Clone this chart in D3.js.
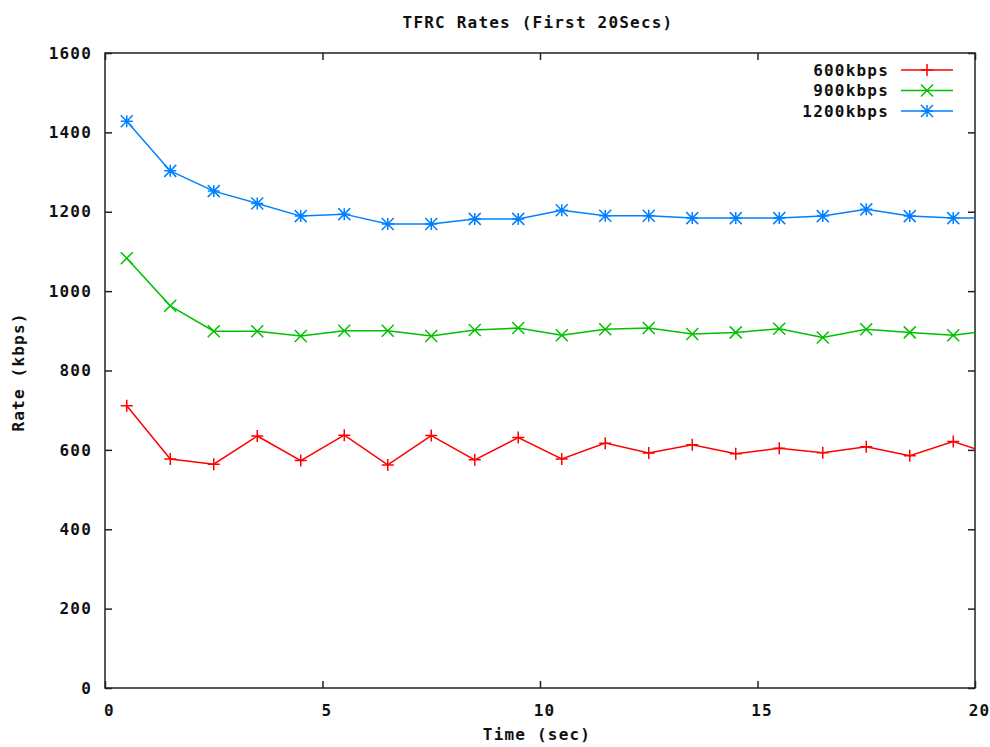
<!DOCTYPE html>
<html>
<head>
<meta charset="utf-8">
<script src="https://cdn.jsdelivr.net/npm/d3@7/dist/d3.min.js"></script>
<style>
  body { margin: 0; background: #fff; }
  text { font-family: "DejaVu Sans Mono", "Liberation Mono", monospace; font-weight: bold; fill: #111; letter-spacing: 1.2px; }
</style>
</head>
<body>
<div id="chart"></div>
<script>
// data (time in sec, rate in kbps)
const times = [0.5, 1.5, 2.5, 3.5, 4.5, 5.5, 6.5, 7.5, 8.5, 9.5, 10.5, 11.5, 12.5, 13.5, 14.5, 15.5, 16.5, 17.5, 18.5, 19.5, 20.5]
const rate600 = [711, 577, 564, 635, 573, 637, 562, 636, 575, 631, 577, 617, 592, 613, 590, 604, 593, 608, 585, 621, 585]
const rate900 = [1083, 963, 899, 899, 887, 900, 900, 887, 902, 907, 889, 904, 907, 892, 896, 905, 883, 904, 896, 889, 903]
const rate1200 = [1428, 1303, 1252, 1221, 1189, 1194, 1169, 1169, 1182, 1182, 1204, 1190, 1190, 1184, 1184, 1184, 1189, 1206, 1189, 1184, 1184]
const seriesNames = ["600kbps", "900kbps", "1200kbps"]
const xTicks = [0, 5, 10, 15, 20]
const yTicks = [0, 200, 400, 600, 800, 1000, 1200, 1400, 1600]

function drawChart() {

  const width = 990
  const height = 747
  const margin = {top: 53, right: 15, bottom: 59, left: 105}
  const innerW = width - margin.left - margin.right
  const innerH = height - margin.top - margin.bottom

  const svg = d3.select("#chart")
    .append("svg")
    .attr("width", width)
    .attr("height", height)

  const g = svg.append("g")
    .attr("transform", `translate(${margin.left}, ${margin.top})`)

  // scales
  const xScale = d3.scaleLinear().domain([0, 20]).range([0, innerW])
  const yScale = d3.scaleLinear().domain([0, 1600]).range([innerH, 0])

  // clip so the last point past 20 sec only shows as a line to the edge
  svg.append("defs").append("clipPath")
    .attr("id", "plotclip")
    .append("rect")
    .attr("width", innerW)
    .attr("height", innerH)

  // ticks on all four sides, pointing inward, like gnuplot
  const tickLen = 7
  const tickStyle = sel => {
    sel.select(".domain").remove()
    sel.selectAll(".tick line").attr("stroke", "#222").attr("stroke-width", 1.5)
  }

  g.append("g")
    .attr("transform", `translate(0, ${innerH})`)
    .call(d3.axisBottom(xScale).tickValues(xTicks).tickSize(-tickLen).tickPadding(17).tickFormat(d3.format("d")))
    .call(tickStyle)
    .call(a => a.selectAll(".tick text").attr("dx", 4).attr("font-size", "16px").attr("fill", "#111"))

  g.append("g")
    .call(d3.axisTop(xScale).tickValues(xTicks).tickSize(-tickLen).tickFormat(""))
    .call(tickStyle)

  g.append("g")
    .call(d3.axisLeft(yScale).tickValues(yTicks).tickSize(-tickLen).tickPadding(13).tickFormat(d3.format("d")))
    .call(tickStyle)
    .call(a => a.selectAll(".tick text").attr("font-size", "16px").attr("fill", "#111"))

  g.append("g")
    .attr("transform", `translate(${innerW}, 0)`)
    .call(d3.axisRight(yScale).tickValues(yTicks).tickSize(-tickLen).tickFormat(""))
    .call(tickStyle)

  // frame
  g.append("rect")
    .attr("width", innerW)
    .attr("height", innerH)
    .attr("fill", "none")
    .attr("stroke", "#222")
    .attr("stroke-width", 1.5)

  // title and axis labels
  svg.append("text")
    .attr("x", 538)
    .attr("y", 28)
    .attr("text-anchor", "middle")
    .attr("font-size", "16px")
    .text("TFRC Rates (First 20Secs)")

  svg.append("text")
    .attr("x", 537)
    .attr("y", 740)
    .attr("text-anchor", "middle")
    .attr("font-size", "16px")
    .text("Time (sec)")

  svg.append("text")
    .attr("transform", "translate(24, 372) rotate(-90)")
    .attr("text-anchor", "middle")
    .attr("font-size", "16px")
    .text("Rate (kbps)")

  // markers
  const s = 6
  const plusPath = `M${-s},0H${s}M0,${-s}V${s}`
  const crossPath = `M${-s},${-s}L${s},${s}M${-s},${s}L${s},${-s}`
  const starPath = plusPath + crossPath

  const series = [
    {name: seriesNames[0], values: rate600, color: "#ff0000", marker: plusPath},
    {name: seriesNames[1], values: rate900, color: "#00c000", marker: crossPath},
    {name: seriesNames[2], values: rate1200, color: "#0080ff", marker: starPath}
  ]

  const lineGenerator = d3.line()
    .x((d, i) => xScale(times[i]))
    .y(d => yScale(d))

  const plot = g.append("g").attr("clip-path", "url(#plotclip)")

  series.forEach(ser => {
    plot.append("path")
      .datum(ser.values)
      .attr("d", lineGenerator)
      .attr("fill", "none")
      .attr("stroke", ser.color)
      .attr("stroke-width", 1.5)

    plot.selectAll(null)
      .data(ser.values)
      .join("path")
      .attr("transform", (d, i) => `translate(${xScale(times[i])}, ${yScale(d)})`)
      .attr("d", ser.marker)
      .attr("fill", "none")
      .attr("stroke", ser.color)
      .attr("stroke-width", 1.5)
  })

  // legend
  const legend = svg.append("g")
  series.forEach((ser, i) => {
    const y = 70 + i * 20.5
    legend.append("text")
      .attr("x", 889)
      .attr("y", y)
      .attr("dy", "0.35em")
      .attr("text-anchor", "end")
      .attr("font-size", "16px")
      .text(ser.name)
    legend.append("line")
      .attr("x1", 901).attr("x2", 953)
      .attr("y1", y).attr("y2", y)
      .attr("stroke", ser.color)
      .attr("stroke-width", 1.5)
    legend.append("path")
      .attr("transform", `translate(927, ${y})`)
      .attr("d", ser.marker)
      .attr("fill", "none")
      .attr("stroke", ser.color)
      .attr("stroke-width", 1.5)
  })
}

drawChart()
</script>
</body>
</html>
